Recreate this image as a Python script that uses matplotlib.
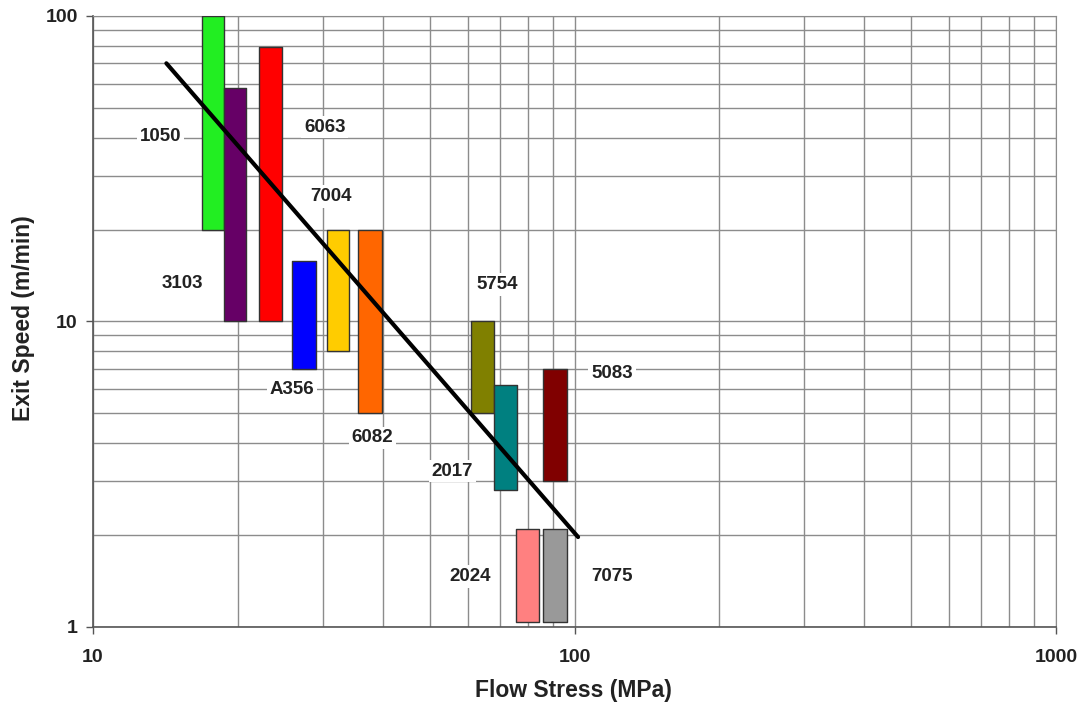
import matplotlib.pyplot as plt
from matplotlib.ticker import FixedLocator, NullFormatter, LogLocator

# Alloy extrusion windows: flow stress span (MPa) and exit speed span (m/min)
alloys = ['1050', '3103', '6063', 'A356', '7004', '6082',
          '5754', '2017', '5083', '2024', '7075']
stress_lo = [16.8, 18.7, 22.1, 25.9, 30.6, 35.5, 61.0, 68.0, 86.0, 75.6, 86.2]
stress_hi = [18.7, 20.8, 24.7, 29.1, 34.0, 39.8, 68.0, 76.0, 96.5, 84.4, 96.5]
speed_lo = [20, 10, 10, 7, 8, 5, 5, 2.8, 3, 1.04, 1.04]
speed_hi = [100, 58, 79, 15.8, 20, 20, 10, 6.2, 7, 2.1, 2.1]
colors = ['#22ee22', '#660066', '#ff0000', '#0000ff', '#ffcc00', '#ff6600',
          '#808000', '#008080', '#800000', '#ff8080', '#999999']

# label anchor points (stress, speed)
label_x = [13.8, 15.3, 30.3, 25.9, 31.2, 38.0, 69.0, 55.7, 119.6, 60.7, 119.6]
label_y = [40.2, 13.3, 43.3, 6.01, 25.6, 4.16, 13.2, 3.24, 6.78, 1.46, 1.46]

# trend line
trend_x = [14.2, 101.7]
trend_y = [70, 1.97]

plt.rcParams['font.family'] = ['Liberation Sans', 'DejaVu Sans']

fig = plt.figure(figsize=(10.82, 7.04), dpi=100)
ax = fig.add_axes([0.086, 0.1094, 0.890, 0.8679])
ax.set_xscale('log')
ax.set_yscale('log')
ax.set_xlim(10, 1000)
ax.set_ylim(1, 100)

ax.grid(True, which='both', color='#8c8c8c', linewidth=1.0, zorder=0)
ax.set_axisbelow(True)

for lo, hi, ylo, yhi, c in zip(stress_lo, stress_hi, speed_lo, speed_hi, colors):
    ax.fill_between([lo, hi], ylo, yhi, facecolor=c, edgecolor='#333333',
                    linewidth=1.0, zorder=3)

ax.plot(trend_x, trend_y, color='black', linewidth=3, solid_capstyle='round', zorder=4)

for name, lx, ly in zip(alloys, label_x, label_y):
    ax.text(lx, ly, name, ha='center', va='center', fontsize=13.5,
            fontweight='bold', color='#222222', zorder=5,
            bbox=dict(facecolor='white', edgecolor='none', pad=2))

ax.xaxis.set_major_locator(FixedLocator([10, 100, 1000]))
ax.yaxis.set_major_locator(FixedLocator([1, 10, 100]))
ax.xaxis.set_minor_locator(LogLocator(base=10, subs=range(2, 10)))
ax.yaxis.set_minor_locator(LogLocator(base=10, subs=range(2, 10)))
ax.xaxis.set_minor_formatter(NullFormatter())
ax.yaxis.set_minor_formatter(NullFormatter())
ax.set_xticklabels(['10', '100', '1000'])
ax.set_yticklabels(['1', '10', '100'])
ax.tick_params(which='major', direction='out', length=5, width=1,
               color='#555555', labelsize=14)
ax.tick_params(axis='x', which='major', pad=11)
ax.tick_params(axis='y', which='major', pad=6)
ax.tick_params(which='minor', length=0)
for lab in ax.get_xticklabels() + ax.get_yticklabels():
    lab.set_fontweight('bold')
    lab.set_color('#222222')

for side in ['top', 'right']:
    ax.spines[side].set_color('#8c8c8c')
for side in ['left', 'bottom']:
    ax.spines[side].set_color('#555555')
    ax.spines[side].set_linewidth(1.2)

fig.text(573 / 1082, 1 - 691 / 704, 'Flow Stress (MPa)', fontsize=16.5,
         fontweight='bold', color='#222222', ha='center', va='center')
fig.text(24 / 1082, 1 - 318 / 704, 'Exit Speed (m/min)', fontsize=16.5,
         fontweight='bold', color='#222222', ha='center', va='center',
         rotation=90)

fig.savefig('out.png', dpi=100)
